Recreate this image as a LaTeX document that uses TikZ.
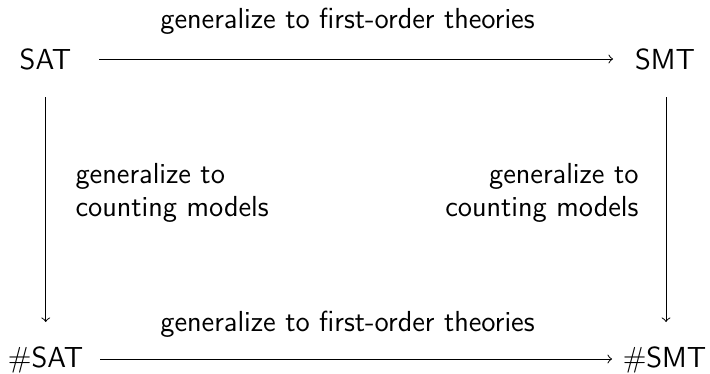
\documentclass[tikz,border=0pt]{standalone}
\renewcommand{\familydefault}{\sfdefault}
\begin{document}
\begin{tikzpicture}[x=0.4pt,y=-0.4pt,
  every node/.style={font=\fontsize{11.6pt}{13.2pt}\selectfont\sffamily, inner sep=0pt},
  obj/.style={anchor=base},
  arr/.style={->, line width=0.4pt}]
\useasboundingbox (0,0) rectangle (710,373);
\node[obj] (SAT) at (45.5,69) {SAT};
\node[obj] (SMT) at (665,69) {SMT};
\node[obj] (nSAT) at (45.5,367) {\#SAT};
\node[obj] (nSMT) at (664.5,367) {\#SMT};
\node[anchor=base] (top) at (347.5,28) {generalize to first-order theories};
\node[anchor=base] (bot) at (347.5,331) {generalize to first-order theories};
\node[anchor=base west, align=left] (left) at (75,216) {generalize to\\counting models};
\node[anchor=base east, align=right] (right) at (639,216) {generalize to\\counting models};
\coordinate (a1) at (99,59);
\coordinate (a2) at (613,59);
\coordinate (b1) at (100,359);
\coordinate (b2) at (612,359);
\coordinate (l1) at (45.7,97);
\coordinate (l2) at (45.7,322);
\coordinate (r1) at (666,97);
\coordinate (r2) at (666,322);
\draw[arr] (a1) -- (a2);
\draw[arr] (b1) -- (b2);
\draw[arr] (l1) -- (l2);
\draw[arr] (r1) -- (r2);
\end{tikzpicture}
\end{document}
